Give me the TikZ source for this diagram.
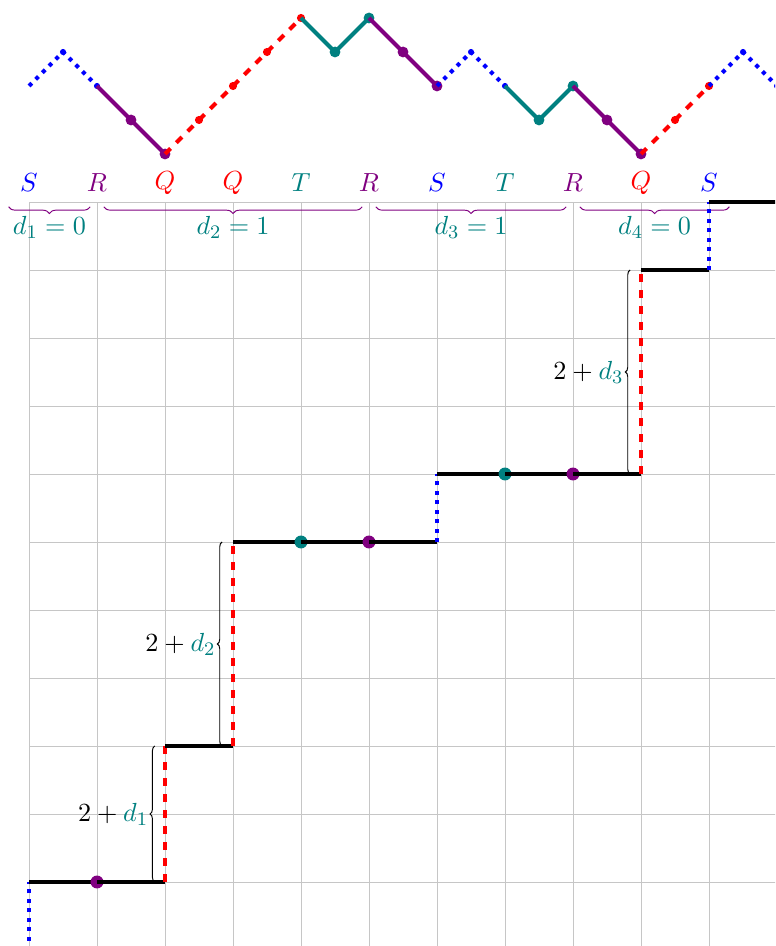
\documentclass[tikz,border=0pt]{standalone}
\usetikzlibrary{decorations.pathreplacing}
\begin{document}
\begin{tikzpicture}[x=1cm,y=1cm,
  every node/.style={font=\fontsize{11.4pt}{13.7pt}\selectfont},
  gridline/.style={gray!45,line width=0.4pt},
  segS/.style={blue,line width=1.65pt,dash pattern=on 1.65pt off 2.3pt},
  segR/.style={violet,line width=1.65pt},
  segQ/.style={red,line width=1.65pt,dash pattern=on 3.3pt off 3.4pt},
  segT/.style={teal,line width=1.65pt},
  stair/.style={black,line width=1.65pt},
  dotS/.style={blue,fill=blue},
  dotR/.style={violet,fill=violet},
  dotQ/.style={red,fill=red},
  dotT/.style={teal,fill=teal},
  sbrace/.style={decorate,decoration={brace,amplitude=0.07cm},line width=0.4pt},
  tbrace/.style={decorate,decoration={brace,mirror,amplitude=0.1cm},violet,line width=0.4pt},
  lab/.style={inner sep=0pt}
]
\useasboundingbox (-0.4265,-0.9412) rectangle (10.9706,12.9706);
\clip (-0.4265,-0.9412) rectangle (10.9706,12.9706);
\draw[gridline] (0,-1) grid (11,10);

% ---------- top path ----------
\def\hb{11.706}
\foreach \i/\l in {0/0,1/1,2/0,3/-1,4/-2,5/-1,6/0,7/1,8/2,9/1,10/2,11/1,12/0,13/1,14/0,15/-1,16/0,17/-1,18/-2,19/-1,20/0,21/1,22/0}{
  \coordinate (p\i) at ({0.5*\i},{\hb+0.5*\l});
}
\newcommand{\topseg}[4]{% style, a, b, c
  \draw[seg#1,line join=round] (p#2) -- (p#3) -- (p#4);
}
\topseg{S}{0}{1}{2}
\fill[dotS] (p1) circle (0.045) (p2) circle (0.045);
\topseg{R}{2}{3}{4}
\fill[dotR] (p3) circle (0.08) (p4) circle (0.08);
\topseg{Q}{4}{5}{6}
\fill[dotQ] (p5) circle (0.06) (p6) circle (0.06);
\topseg{Q}{6}{7}{8}
\fill[dotQ] (p7) circle (0.06) (p8) circle (0.06);
\topseg{T}{8}{9}{10}
\fill[dotT] (p9) circle (0.08) (p10) circle (0.08);
\topseg{R}{10}{11}{12}
\fill[dotR] (p11) circle (0.08) (p12) circle (0.08);
\topseg{S}{12}{13}{14}
\fill[dotS] (p13) circle (0.045) (p14) circle (0.045);
\topseg{T}{14}{15}{16}
\fill[dotT] (p15) circle (0.08) (p16) circle (0.08);
\topseg{R}{16}{17}{18}
\fill[dotR] (p17) circle (0.08) (p18) circle (0.08);
\topseg{Q}{18}{19}{20}
\fill[dotQ] (p19) circle (0.06) (p20) circle (0.06);
\topseg{S}{20}{21}{22}
\fill[dotS] (p21) circle (0.045) (p22) circle (0.045);

% ---------- letters ----------
\foreach \x/\c/\t [count=\k] in {0/blue/S,1/violet/R,2/red/Q,3/red/Q,4/teal/T,5/violet/R,6/blue/S,7/teal/T,8/violet/R,9/red/Q,10/blue/S}{
  \node[lab,text=\c] (L\k) at (\x,10.28) {$\t$};
}

% ---------- top braces ----------
\coordinate (b1a) at (-0.3,9.93); \coordinate (b1b) at (0.9,9.93);
\coordinate (b2a) at (1.1,9.93);  \coordinate (b2b) at (4.9,9.93);
\coordinate (b3a) at (5.1,9.93);  \coordinate (b3b) at (7.9,9.93);
\coordinate (b4a) at (8.1,9.93);  \coordinate (b4b) at (10.3,9.93);
\draw[tbrace] (b1a) -- (b1b);
\draw[tbrace] (b2a) -- (b2b);
\draw[tbrace] (b3a) -- (b3b);
\draw[tbrace] (b4a) -- (b4b);
\node[lab,text=teal] (D1) at (0.3,9.62) {$d_1=0$};
\node[lab,text=teal] (D2) at (3.0,9.62) {$d_2=1$};
\node[lab,text=teal] (D3) at (6.5,9.62) {$d_3=1$};
\node[lab,text=teal] (D4) at (9.2,9.62) {$d_4=0$};

% ---------- staircase ----------
\coordinate (s0) at (0,-1);
\coordinate (a0) at (0,0);  \coordinate (a1) at (1,0);  \coordinate (a2) at (2,0);
\coordinate (b0) at (2,2);  \coordinate (b1) at (3,2);
\coordinate (c0) at (3,5);  \coordinate (c1) at (4,5);  \coordinate (c2) at (5,5); \coordinate (c3) at (6,5);
\coordinate (e0) at (6,6);  \coordinate (e1) at (7,6);  \coordinate (e2) at (8,6); \coordinate (e3) at (9,6);
\coordinate (f0) at (9,9);  \coordinate (f1) at (10,9);
\coordinate (g0) at (10,10); \coordinate (g1) at (11.2,10);

\draw[segS] (s0) -- (a0);
\draw[stair] (a0) -- (a1);
\fill[dotR] (a1) circle (0.095);
\draw[stair] (a1) -- (a2);
\draw[segQ] (a2) -- (b0);
\draw[stair] (b0) -- (b1);
\draw[segQ] (b1) -- (c0);
\draw[stair] (c0) -- (c1);
\fill[dotT] (c1) circle (0.095);
\draw[stair] (c1) -- (c2);
\fill[dotR] (c2) circle (0.095);
\draw[stair] (c2) -- (c3);
\draw[segS] (c3) -- (e0);
\draw[stair] (e0) -- (e1);
\fill[dotT] (e1) circle (0.095);
\draw[stair] (e1) -- (e2);
\fill[dotR] (e2) circle (0.095);
\draw[stair] (e2) -- (e3);
\draw[segQ] (e3) -- (f0);
\draw[stair] (f0) -- (f1);
\draw[segS] (f1) -- (g0);
\draw[stair] (g0) -- (g1);

% ---------- side braces ----------
\draw[sbrace] (1.85,0) -- node[left=0.09cm,inner sep=0pt] (B1) {$2+\textcolor{teal}{d_1}$} (1.85,2);
\draw[sbrace] (2.84,2) -- node[left=0.09cm,inner sep=0pt] (B2) {$2+\textcolor{teal}{d_2}$} (2.84,5);
\draw[sbrace] (8.84,6) -- node[left=0.09cm,inner sep=0pt] (B3) {$2+\textcolor{teal}{d_3}$} (8.84,9);
\end{tikzpicture}
\end{document}
